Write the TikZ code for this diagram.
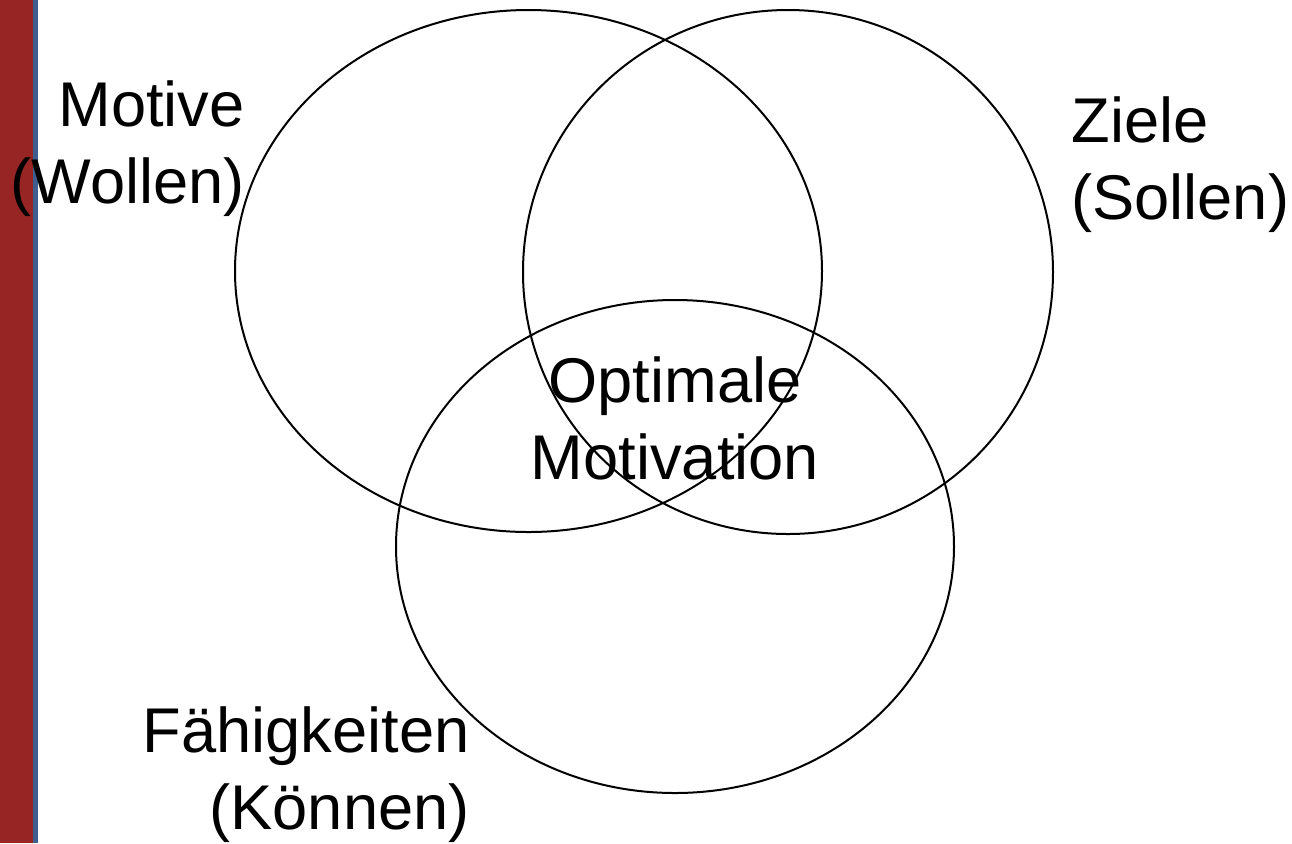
\documentclass[tikz,border=0pt]{standalone}
\usepackage{fontspec}
\setmainfont{Liberation Sans}
\definecolor{barred}{RGB}{150,37,35}
\definecolor{barblue}{RGB}{62,95,143}
\tikzset{
  label text/.style={font=\fontsize{31.6}{38.5}\selectfont, inner sep=0pt},
  set ring/.style={draw=black, line width=1pt}
}

\begin{document}
\begin{tikzpicture}[x=0.5pt,y=-0.5pt]
    % page frame, one unit = one pixel of the slide
    \useasboundingbox (0,0) rectangle (1292,843);
    \fill[barred] (0,0) rectangle (32.5,843);
    \fill[barblue] (32.5,0) rectangle (38,843);

    % centres of the three sets
    \coordinate (wollen) at (528.5,271);
    \coordinate (sollen) at (788,272);
    \coordinate (koennen) at (675,546.5);

    \draw[set ring] (wollen) ellipse [x radius=146.75pt, y radius=130.5pt];
    \draw[set ring] (sollen) ellipse [x radius=132.5pt, y radius=131pt];
    \draw[set ring] (koennen) ellipse [x radius=139.5pt, y radius=123.25pt];

    % labels
    \node[label text, align=right, anchor=east] (motive) at (245,149) {Motive\\(Wollen)};
    \node[label text, align=left, anchor=west] (ziele) at (1071,165) {Ziele\\(Sollen)};
    \node[label text, align=right, anchor=east] (faehig) at (470,775) {Fähigkeiten\\(Können)};
    \node[label text, align=center] (optimal) at (675,418) {Optimale\\Motivation};
\end{tikzpicture}
\end{document}
